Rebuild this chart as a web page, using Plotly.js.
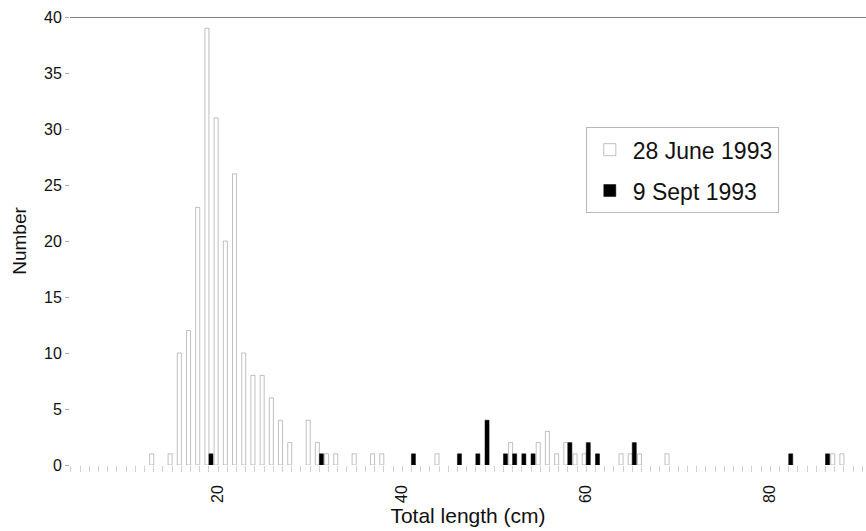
<!DOCTYPE html>
<html>
<head>
<meta charset="utf-8">
<script src="https://cdn.plot.ly/plotly-3.0.1.min.js"></script>
<style>html,body{margin:0;padding:0;background:#fff;}#chart{width:866px;height:531px;}</style>
</head>
<body>
<div id="chart"></div>
<script>
// 28 June 1993 length-frequency (cm, count)
const juneLengths = [13,15,16,17,18,19,20,21,22,23,24,25,26,27,28,30,31,32,33,35,37,38,44,52,55,56,57,58,59,60,64,65,66,69,87,88];
const juneCounts  = [1,1,10,12,23,39,31,20,26,10,8,8,6,4,2,4,2,1,1,1,1,1,1,2,2,3,1,2,1,1,1,1,1,1,1,1];
// 9 Sept 1993 length-frequency
const septLengths = [19,31,41,46,48,49,51,52,53,54,58,60,61,65,82,86];
const septCounts  = [1,1,1,1,1,4,1,1,1,1,2,2,1,2,1,1];
// axis ticks
const xTicks = [20,40,60,80];
const yTicks = [0,5,10,15,20,25,30,35,40];
const seriesNames = ['28 June 1993','9 Sept 1993'];

const font = 'Liberation Sans, Arial, sans-serif';

const traces = [
  {type:'bar', x: juneLengths, y: juneCounts, name: seriesNames[0], legendgroup:'a',
   marker:{color:'#ffffff', line:{color:'rgba(150,150,150,0.6)', width:1}}},
  {type:'bar', x: septLengths, y: septCounts, name: seriesNames[1], legendgroup:'b',
   marker:{color:'#000000', line:{color:'#000000', width:0.5}}}
];

const layout = {
  width:866, height:531,
  margin:{l:70, r:0, t:17, b:66},
  paper_bgcolor:'#ffffff', plot_bgcolor:'#ffffff',
  barmode:'group', bargap:0.12, bargroupgap:0,
  font:{family:font, color:'#111'},
  showlegend:true,
  legend:{x:0.648, y:0.754, xanchor:'left', yanchor:'top',
          bgcolor:'#ffffff', bordercolor:'#b8b8b8', borderwidth:1,
          font:{size:23, family:font, color:'#111'}, tracegroupgap:8, itemwidth:36},
  xaxis:{range:[3.9,90.4], tickvals:xTicks, ticktext:xTicks.map(String), tickangle:-90,
         tickfont:{size:16, family:font, color:'#111'}, ticks:'', ticklabelstandoff:16,
         showgrid:false, zeroline:false, showline:false,
         minor:{dtick:1, tick0:0, ticks:'outside', ticklen:6, tickcolor:'#d0d0d0', tickwidth:1, showgrid:false},
         title:{text:'Total length (cm)', font:{size:21, family:font, color:'#111'}, standoff:6}},
  yaxis:{range:[0,40], tickvals:yTicks, ticks:'outside', ticklen:4, tickcolor:'#aaa',
         tickfont:{size:16, family:font, color:'#111'}, showgrid:false, zeroline:false,
         showline:false,
         title:{text:'Number', font:{size:19, family:font, color:'#111'}, standoff:12}},
  shapes:[{type:'line', xref:'paper', yref:'y', x0:0, x1:1, y0:40, y1:40,
           line:{color:'#555', width:1.5}}]
};

Plotly.newPlot('chart', traces, layout, {displayModeBar:false, staticPlot:true});
</script>
</body>
</html>
